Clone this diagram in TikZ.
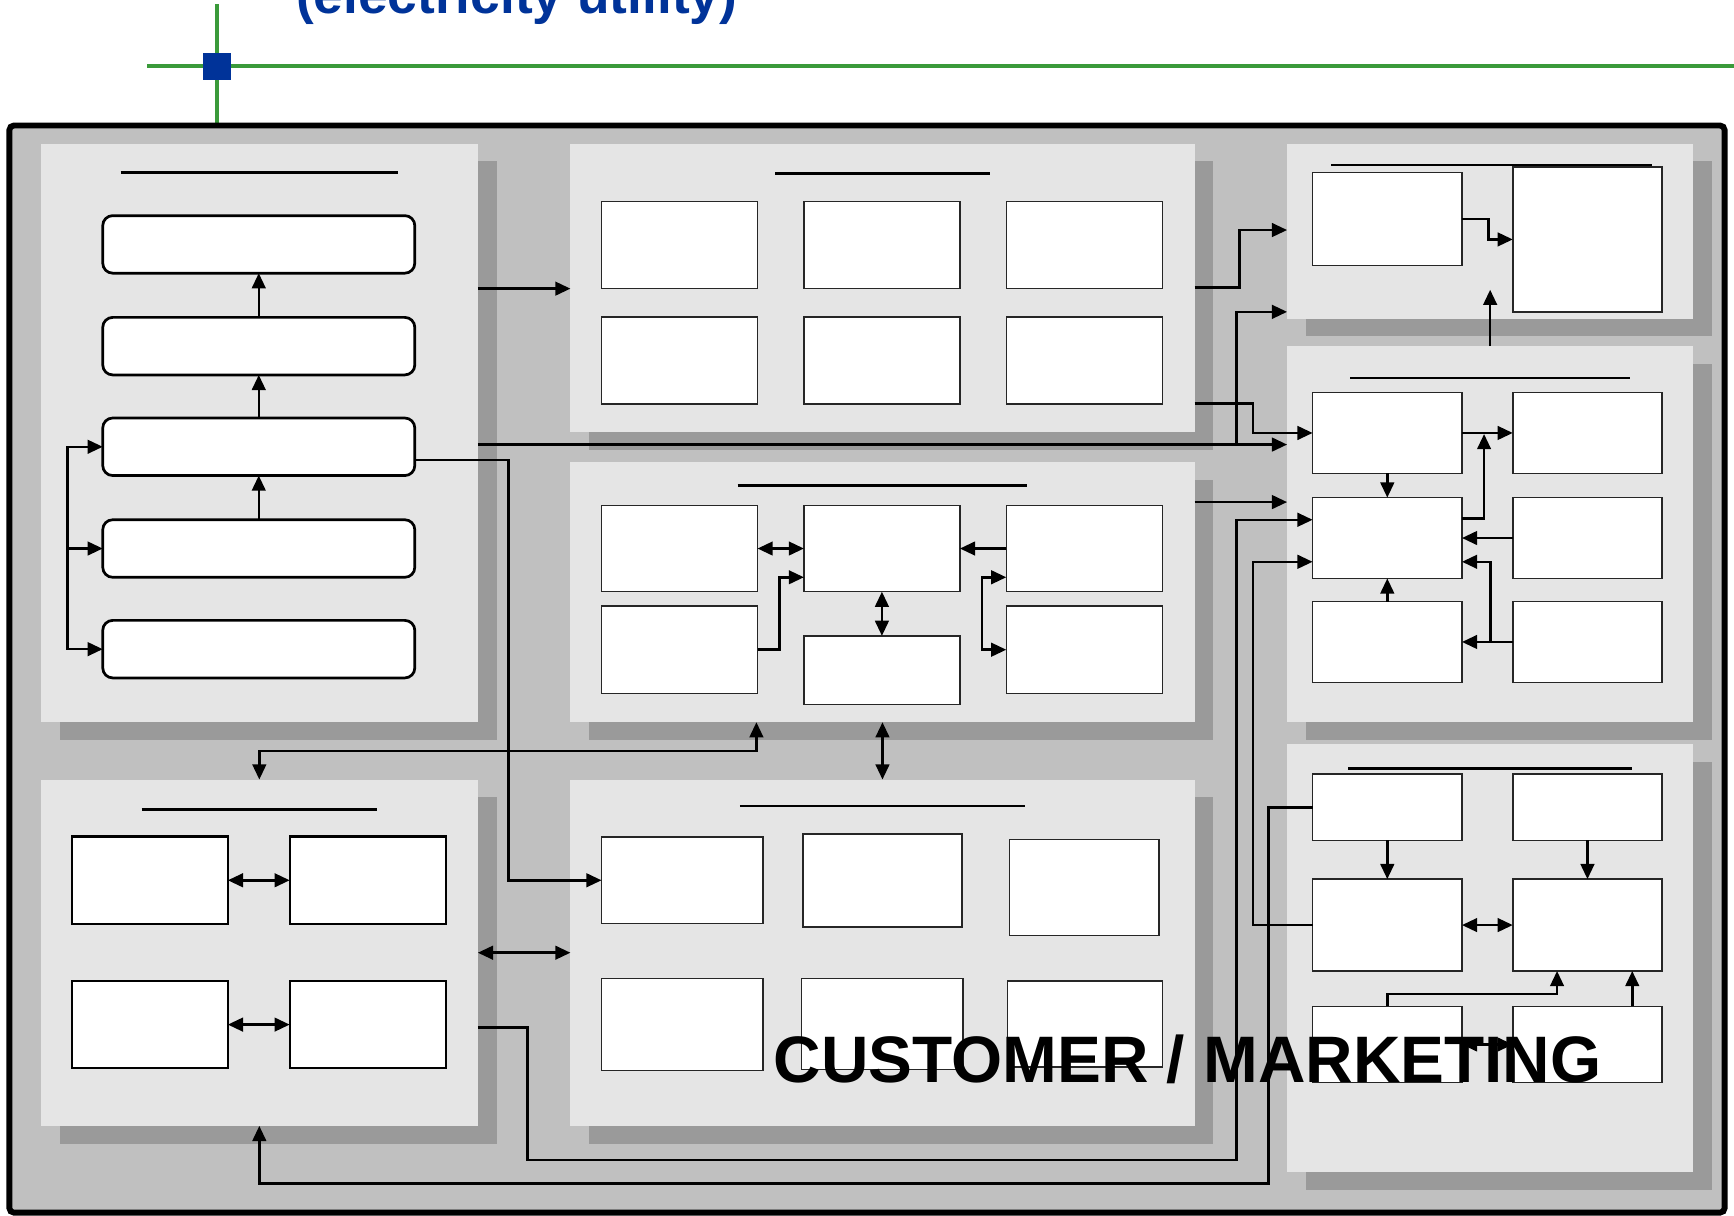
\documentclass[tikz,border=0pt]{standalone}
\usepackage{fontspec}
\setsansfont{Liberation Sans}
\usetikzlibrary{arrows.meta,shadows}

\definecolor{framegray}{HTML}{C0C0C0}
\definecolor{panelgray}{HTML}{E5E5E5}
\definecolor{shadegray}{HTML}{9A9A9A}
\definecolor{titleblue}{HTML}{003399}
\definecolor{rulegreen}{HTML}{3A9A3A}

\tikzset{
	panel/.style={fill=panelgray, inner sep=0pt, outer sep=0pt,
		drop shadow={shadow xshift=0.17cm, shadow yshift=-0.16cm, fill=shadegray, opacity=1}},
	box/.style={draw=black!85, fill=white, line width=0.4pt, inner sep=0pt, outer sep=0pt},
	rbox/.style={box, draw=black, line width=0.7pt, rounded corners=0.09cm,
		minimum width=2.82cm, minimum height=0.52cm},
	dbox/.style={box, draw=black, line width=0.6pt, minimum width=1.41cm, minimum height=0.79cm},
	hdline/.style={line width=0.65pt},
	arr/.style={->, line width=0.65pt},
	darr/.style={<->, line width=0.65pt}
}

\begin{document}
\begin{tikzpicture}[x=0.01cm, y=-0.01cm, >={Triangle[length=3.9pt,width=3.5pt]}]
	\useasboundingbox (0,0) rectangle (1568,1099);

	% heading and rules
	\node[anchor=base west, inner sep=0pt, text=titleblue,
		font=\sffamily\bfseries\fontsize{13.7pt}{16pt}\selectfont] (title) at (267,12) {(electricity utility)};
	\draw[rulegreen, line width=1pt] (133,60) -- (1568,60);
	\draw[rulegreen, line width=1pt] (196.5,4) -- (196.5,113);
	\fill[titleblue] (184,47.5) rectangle (209,72.5);

	% outer frame
	\draw[line width=1.5pt, fill=framegray, rounded corners=0.04cm] (8.5,113.5) rectangle (1559.5,1096.5);

	% panels
	\node[panel, minimum width=3.95cm, minimum height=5.23cm] (pA) at (234.5,391.5) {};
	\node[panel, minimum width=5.64cm, minimum height=2.61cm] (pB) at (798,260.5) {};
	\node[panel, minimum width=5.64cm, minimum height=2.35cm] (pC) at (798,535.5) {};
	\node[panel, minimum width=3.95cm, minimum height=3.13cm] (pD) at (234.5,861.5) {};
	\node[panel, minimum width=5.64cm, minimum height=3.13cm] (pE) at (798,861.5) {};
	\node[panel, minimum width=3.67cm, minimum height=1.58cm] (pF) at (1347.5,209) {};
	\node[panel, minimum width=3.67cm, minimum height=3.40cm] (pG) at (1347.5,483) {};
	\node[panel, minimum width=3.67cm, minimum height=3.87cm] (pH) at (1347.5,866.5) {};

	% heading lines of the panels
	\draw[hdline] (109,156) -- (360,156);
	\draw[hdline] (701,157) -- (895,157);
	\draw[hdline] (667,439) -- (929,439);
	\draw[hdline] (128,732) -- (341,732);
	\draw[hdline] (669,729) -- (927,729);
	\draw[hdline] (1204,149) -- (1494,149);
	\draw[hdline] (1221,342) -- (1474,342);
	\draw[hdline] (1219,695) -- (1476,695);

	% panel A
	\foreach \y [count=\i] in {221,313,404,496,587}
		\node[rbox] (A\i) at (234,\y) {};

	% panel B
	\foreach \n/\x/\y in {B1/614.5/221.5, B2/797.5/221.5, B3/980.5/221.5,
		B4/614.5/326, B5/797.5/326, B6/980.5/326}
		\node[box, minimum width=1.41cm, minimum height=0.785cm] (\n) at (\x,\y) {};

	% panel C
	\node[box, minimum width=1.41cm, minimum height=0.78cm] (C1) at (614.5,496) {};
	\node[box, minimum width=1.41cm, minimum height=0.78cm] (C2) at (797.5,496) {};
	\node[box, minimum width=1.41cm, minimum height=0.78cm] (C3) at (980.5,496) {};
	\node[box, minimum width=1.41cm, minimum height=0.79cm] (C4) at (614.5,587.5) {};
	\node[box, minimum width=1.41cm, minimum height=0.62cm] (C5) at (797.5,606) {};
	\node[box, minimum width=1.41cm, minimum height=0.79cm] (C6) at (980.5,587.5) {};

	% panel D
	\node[dbox] (D1) at (135.5,796) {};
	\node[dbox] (D2) at (332.5,796) {};
	\node[dbox] (D3) at (135.5,926.5) {};
	\node[dbox] (D4) at (332.5,926.5) {};

	% panel E
	\node[box, minimum width=1.46cm, minimum height=0.78cm] (E1) at (617,796) {};
	\node[box, minimum width=1.44cm, minimum height=0.84cm] (E2) at (798,796) {};
	\node[box, minimum width=1.35cm, minimum height=0.87cm] (E3) at (980.5,802.5) {};
	\node[box, minimum width=1.46cm, minimum height=0.83cm] (E4) at (617,926.5) {};
	\node[box, minimum width=1.46cm, minimum height=0.82cm] (E5) at (798,926) {};
	\node[box, minimum width=1.40cm, minimum height=0.78cm] (E6) at (981,926) {};

	% panel F
	\node[box, minimum width=1.35cm, minimum height=0.84cm] (F1) at (1254.5,198) {};
	\node[box, minimum width=1.35cm, minimum height=1.31cm] (F2) at (1435.5,216.5) {};

	% panel G
	\foreach \n/\x/\y in {G1/1254.5/391.5, G2/1435.5/391.5, G3/1254.5/486.5,
		G4/1435.5/486.5, G5/1254.5/580.5, G6/1435.5/580.5}
		\node[box, minimum width=1.35cm, minimum height=0.73cm] (\n) at (\x,\y) {};

	% panel H
	\node[box, minimum width=1.35cm, minimum height=0.60cm] (H1) at (1254.5,730) {};
	\node[box, minimum width=1.35cm, minimum height=0.60cm] (H2) at (1435.5,730) {};
	\node[box, minimum width=1.35cm, minimum height=0.83cm] (H3) at (1254.5,836.5) {};
	\node[box, minimum width=1.35cm, minimum height=0.83cm] (H4) at (1435.5,836.5) {};
	\node[box, minimum width=1.35cm, minimum height=0.69cm] (H5) at (1254.5,944.5) {};
	\node[box, minimum width=1.35cm, minimum height=0.69cm] (H6) at (1435.5,944.5) {};

	% connectors inside the panels
	\draw[arr] (A2) -- (A1);
	\draw[arr] (A3) -- (A2);
	\draw[arr] (A4) -- (A3);
	\coordinate (Abus) at (61,496);
	\draw[arr] (Abus) |- (A3.west);
	\draw[arr] (Abus) -- (A4.west);
	\draw[arr] (Abus) |- (A5.west);

	\draw[darr] (C1) -- (C2);
	\draw[arr] (C3) -- (C2);
	\draw[arr] (C4.east) -- (705,587.5) |- (C2.west |- 0,522);
	\draw[darr] (C3.west |- 0,522) -- (888,522) |- (C6.west);
	\draw[darr] (C2) -- (C5);

	\draw[darr] (D1) -- (D2);
	\draw[darr] (D3) -- (D4);

	\draw[arr] (F1.east) -- (1346,198) |- (F2.west);

	\coordinate (G12) at (1342,392.5);
	\coordinate (G65) at (1348,580.5);
	\draw[arr] (G1) -- (G2);
	\draw[arr] (G1) -- (G3);
	\draw[arr] (G5) -- (G3);
	\draw[arr] (G4) -- (G3);
	\draw[arr] (G6) -- (G5);
	\draw[arr] (G3.east |- 0,469) -| (G12);
	\draw[arr] (G65) |- (G3.east |- 0,508);

	\draw[arr] (H1) -- (H3);
	\draw[arr] (H2) -- (H4);
	\draw[darr] (H3) -- (H4);
	\draw[darr] (H5) -- (H6);
	\draw[arr] (H5.north) -- (1254.5,899) -| (1408,0 |- H4.south);
	\draw[arr] (1476,0 |- H6.north) -- (1476,0 |- H4.south);

	% connectors between the panels
	\draw[arr] (pA.east |- 0,261) -- (pB.west |- 0,261);
	\draw[arr] (pA.east |- 0,402) -- (pG.west |- 0,402);
	\draw[arr] (1118,402) |- (pF.west |- 0,282);
	\draw[arr] (A3.east |- 0,416) -- (460,416) |- (E1.west);
	\draw[arr] (pB.east |- 0,260) -- (1121,260) |- (pF.west |- 0,208);
	\draw[arr] (pB.east |- 0,365) -- (1133,365) |- (G1.west);
	\draw[arr] (pC.east |- 0,454) -- (pG.west |- 0,454);
	\draw[darr] (pD.north) |- (684,679) -- (684,0 |- pC.south);
	\draw[darr] (pC.south) -- (pE.north);
	\draw[darr] (pD.east) -- (pE.west);
	\draw[arr] (pD.east |- 0,929) -- (477,929) |- (1118,1049) |- (G3.west |- 0,470);
	\draw[arr] (H1.west) -- (1147,730) |- (234.5,1070) -- (pD.south);
	\draw[arr] (H3.west) -- (1133,836.5) |- (G3.west |- 0,508);
	\draw[arr] (pG.north) -- (1347.5,262);

	% panel caption
	\node[anchor=base west, inner sep=0pt,
		font=\sffamily\bfseries\fontsize{16.9pt}{20pt}\selectfont] (mkt) at (699,979) {CUSTOMER / MARKETING};
\end{tikzpicture}
\end{document}
